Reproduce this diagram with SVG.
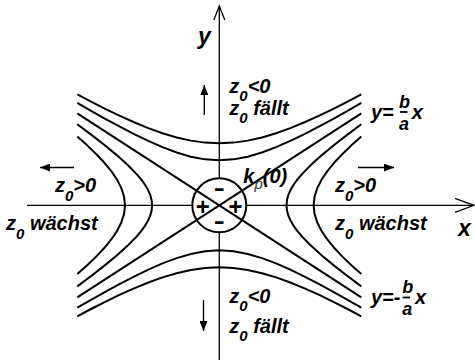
<svg xmlns="http://www.w3.org/2000/svg" width="475" height="360" viewBox="0 0 475 360">
  <style>
    .ax{stroke:#000;stroke-width:1.3;fill:none}
    .cv{stroke:#000;stroke-width:2;fill:none;stroke-linejoin:round;stroke-linecap:butt}
    .ar{stroke:#000;stroke-width:1.4;fill:none}
    text{font-family:"Liberation Sans",Arial,sans-serif;fill:#000}
    .t{font-size:20px;font-weight:bold;font-style:italic}
    .big{font-size:23px;font-weight:bold;font-style:italic}
    .fr{font-size:18px;font-weight:bold;font-style:italic}
    .sg{font-size:24px;font-weight:bold}
    .sub{font-size:15px}
  </style>
  <defs>
    <marker id="ah" viewBox="0 0 10 8" refX="10" refY="4" markerWidth="10" markerHeight="8" markerUnits="userSpaceOnUse" orient="auto">
      <path d="M0,0 L10,4 L0,8 z" fill="#000"/>
    </marker>
    <path id="u1" d="M-142,-102.43 L-127.8,-94.25 L-113.6,-86.28 L-99.4,-78.57 L-85.2,-71.23 L-71,-64.36 L-56.8,-58.13 L-42.6,-52.79 L-28.4,-48.62 L-14.2,-45.93 L0,-45 L14.2,-45.93 L28.4,-48.62 L42.6,-52.79 L56.8,-58.13 L71,-64.36 L85.2,-71.23 L99.4,-78.57 L113.6,-86.28 L127.8,-94.25 L142,-102.43"/>
    <path id="u2" d="M-142,-110.96 L-127.8,-103.45 L-113.6,-96.24 L-99.4,-89.4 L-85.2,-83.02 L-71,-77.21 L-56.8,-72.1 L-42.6,-67.87 L-28.4,-64.67 L-14.2,-62.68 L0,-62 L14.2,-62.68 L28.4,-64.67 L42.6,-67.87 L56.8,-72.1 L71,-77.21 L85.2,-83.02 L99.4,-89.4 L113.6,-96.24 L127.8,-103.45 L142,-110.96"/>
    <path id="r1" d="M142.05,-81.1 L128.48,-70.96 L115.45,-60.83 L103.13,-50.69 L91.82,-40.55 L81.96,-30.41 L77.76,-25.35 L74.13,-20.28 L71.18,-15.21 L69,-10.14 L67.65,-5.07 L67.2,0 L67.65,5.07 L69,10.14 L71.18,15.21 L74.13,20.28 L77.76,25.35 L81.96,30.41 L91.82,40.55 L103.13,50.69 L115.45,60.83 L128.48,70.96 L142.05,81.1"/>
    <path id="r2" d="M142,-68.8 L132.38,-60.2 L123.42,-51.6 L115.31,-43 L108.22,-34.4 L102.36,-25.8 L97.96,-17.2 L95.23,-8.6 L94.3,0 L95.23,8.6 L97.96,17.2 L102.36,25.8 L108.22,34.4 L115.31,43 L123.42,51.6 L132.38,60.2 L142,68.8"/>
  </defs>

  <g id="axes">
    <line class="ax" x1="27" y1="205.3" x2="474" y2="205.3"/>
    <polyline class="ax" points="455,198.3 474,205.3 455,212.3"/>
    <line class="ax" x1="219.3" y1="6" x2="219.3" y2="360"/>
    <polyline class="ax" points="213.8,20 219.3,6 224.8,20"/>
  </g>

  <g id="hyperbolas" transform="translate(219.3 205.3)">
    <use href="#u1" class="cv"/>
    <use href="#u2" class="cv"/>
    <use href="#u1" class="cv" transform="scale(1,-1)"/>
    <use href="#u2" class="cv" transform="scale(1,-1)"/>
    <use href="#r1" class="cv"/>
    <use href="#r2" class="cv"/>
    <use href="#r1" class="cv" transform="scale(-1,1)"/>
    <use href="#r2" class="cv" transform="scale(-1,1)"/>
  </g>

  <g id="origin">
    <circle cx="219.3" cy="205.3" r="27" fill="#fff" stroke="#000" stroke-width="2"/>
  </g>

  <g id="asymptotes" transform="translate(219.3 205.3)">
    <line class="cv" x1="-142" y1="-92" x2="142" y2="92"/>
    <line class="cv" x1="-142" y1="92" x2="142" y2="-92"/>
  </g>

  <g id="signs">
    <text class="sg" x="219.3" y="196" text-anchor="middle" textLength="11" lengthAdjust="spacingAndGlyphs">-</text>
    <text class="sg" x="219.3" y="228.5" text-anchor="middle" textLength="11" lengthAdjust="spacingAndGlyphs">-</text>
    <text class="sg" x="202.7" y="214.5" text-anchor="middle">+</text>
    <text class="sg" x="235.5" y="214.5" text-anchor="middle">+</text>
  </g>

  <g id="arrows">
    <line class="ar" x1="74" y1="167.5" x2="40" y2="167.5" marker-end="url(#ah)"/>
    <line class="ar" x1="358" y1="167.5" x2="394" y2="167.5" marker-end="url(#ah)"/>
    <line class="ar" x1="204.3" y1="115" x2="204.3" y2="85" marker-end="url(#ah)"/>
    <line class="ar" x1="203.5" y1="300" x2="203.5" y2="331" marker-end="url(#ah)"/>
  </g>

  <g id="labels">
    <text class="big" x="198" y="44">y</text>
    <text class="big" x="458" y="235.5">x</text>

    <text class="t" x="229.3" y="92.5">z<tspan class="sub" dy="8">0</tspan><tspan dy="-8">&lt;0</tspan></text>
    <text class="t" x="229.3" y="115">z<tspan class="sub" dy="8">0</tspan><tspan dy="-8"> fällt</tspan></text>

    <text class="t" x="229.3" y="303.3">z<tspan class="sub" dy="8">0</tspan><tspan dy="-8">&lt;0</tspan></text>
    <text class="t" x="229.3" y="333.3">z<tspan class="sub" dy="8">0</tspan><tspan dy="-8"> fällt</tspan></text>

    <text class="t" x="55" y="191.7">z<tspan class="sub" dy="9">0</tspan><tspan dy="-9">&gt;0</tspan></text>
    <text class="t" x="6" y="230">z<tspan class="sub" dy="9">0</tspan><tspan dy="-9"> wächst</tspan></text>

    <text class="t" x="335" y="191.7">z<tspan class="sub" dy="9">0</tspan><tspan dy="-9">&gt;0</tspan></text>
    <text class="t" x="335" y="230">z<tspan class="sub" dy="9">0</tspan><tspan dy="-9"> wächst</tspan></text>

    <text class="t" x="243.3" y="183.3">k<tspan font-size="15" font-weight="normal" fill="#333" dy="6">p</tspan><tspan dy="-6">(0)</tspan></text>

    <text class="t" x="371" y="119">y=</text>
    <text class="fr" x="399" y="108.3">b</text>
    <line x1="400" y1="112" x2="407.5" y2="112" stroke="#000" stroke-width="1.8"/>
    <text class="fr" x="399" y="130">a</text>
    <text class="t" x="411.7" y="119">x</text>

    <text class="t" x="371" y="304">y=-</text>
    <text class="fr" x="402.3" y="293.3">b</text>
    <line x1="402.7" y1="297.5" x2="410" y2="297.5" stroke="#000" stroke-width="1.8"/>
    <text class="fr" x="402.3" y="315">a</text>
    <text class="t" x="415" y="304">x</text>
  </g>
</svg>
